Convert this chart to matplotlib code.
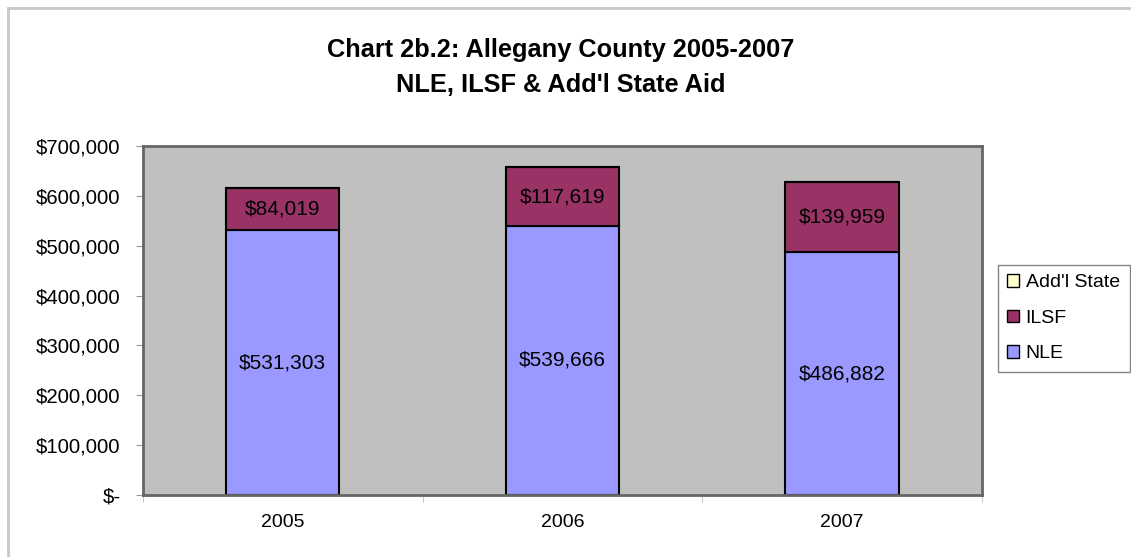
import matplotlib.pyplot as plt
import matplotlib.patches as mpatches
import numpy as np

plt.rcParams['font.family'] = ['Liberation Sans', 'DejaVu Sans']

years = ['2005', '2006', '2007']
nle = [531303, 539666, 486882]
ilsf = [84019, 117619, 139959]
addl_state = [0, 0, 0]

c_nle = '#9999FF'
c_ilsf = '#993366'
c_addl = '#FFFFCC'

fig = plt.figure(figsize=(11.31, 5.57), dpi=100)
ax = fig.add_axes([0.1264, 0.1113, 0.868 - 0.1264, 0.7379 - 0.1113])
ax.set_facecolor('#C0C0C0')

x = np.arange(len(years))
w = 0.405
ax.bar(x, nle, w, color=c_nle, edgecolor='black', linewidth=1.5)
ax.bar(x, ilsf, w, bottom=nle, color=c_ilsf, edgecolor='black', linewidth=1.5)
bottom3 = np.array(nle) + np.array(ilsf)
ax.bar(x, addl_state, w, bottom=bottom3, color=c_addl, edgecolor='black', linewidth=1.5)

for i in range(len(years)):
    ax.text(x[i], nle[i] / 2, f"${nle[i]:,}", ha='center', va='center', fontsize=15)
    ax.text(x[i], nle[i] + ilsf[i] / 2, f"${ilsf[i]:,}", ha='center', va='center', fontsize=15)

ax.set_xlim(-0.5, 2.5)
ax.set_ylim(0, 700000)
ax.set_yticks(np.arange(0, 700001, 100000))
ax.set_yticklabels(['$-' if v == 0 else f"${v:,}" for v in range(0, 700001, 100000)], fontsize=14.7)
ax.set_xticks(x)
ax.set_xticklabels(years, fontsize=14)
ax.set_xticks([-0.5, 0.5, 1.5, 2.5], minor=True)
ax.tick_params(axis='x', which='major', length=0, pad=14)
ax.tick_params(axis='x', which='minor', length=5, color='#BBBBBB')
ax.tick_params(axis='y', length=5, color='#999999', pad=11)

for s in ax.spines.values():
    s.set_color('#666666')
    s.set_linewidth(2)

fig.text(0.496, 0.91, "Chart 2b.2: Allegany County 2005-2007", ha='center', va='center',
         fontsize=18.3, fontweight='bold')
fig.text(0.496, 0.847, "NLE, ILSF & Add'l State Aid", ha='center', va='center',
         fontsize=18.3, fontweight='bold')

handles = [mpatches.Patch(facecolor=c_addl, edgecolor='black'),
           mpatches.Patch(facecolor=c_ilsf, edgecolor='black'),
           mpatches.Patch(facecolor=c_nle, edgecolor='black')]
leg = fig.legend(handles, ["Add'l State", 'ILSF', 'NLE'], loc='upper left',
                 bbox_to_anchor=(0.882, 0.525), fontsize=14, frameon=True,
                 fancybox=False, handlelength=0.6, handleheight=0.6,
                 handletextpad=0.35, labelspacing=0.95, borderpad=0.5,
                 borderaxespad=0)
leg.get_frame().set_edgecolor('#666666')
leg.get_frame().set_linewidth(1)

# chart area border
fig.patches.append(mpatches.Rectangle((8 / 1131, -0.1), 1.2, 1 - 8 / 557 + 0.1,
                                      transform=fig.transFigure, fill=False,
                                      edgecolor='#C8C8C8', linewidth=2))

fig.savefig('out.png', dpi=100, facecolor='white')
